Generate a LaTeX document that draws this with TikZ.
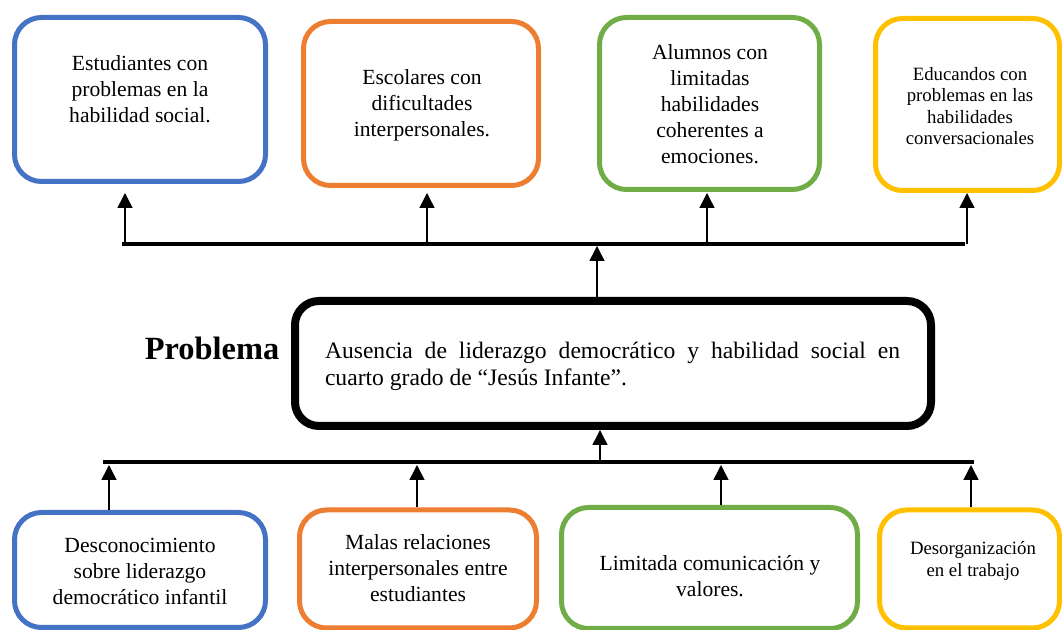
\documentclass[tikz,border=0pt]{standalone}
\usepackage{fontspec}
\setmainfont{Liberation Serif}
\usetikzlibrary{arrows.meta}

\definecolor{azul}{HTML}{4472C4}
\definecolor{naranja}{HTML}{ED7D31}
\definecolor{verde}{HTML}{70AD47}
\definecolor{amarillo}{HTML}{FFC000}

\begin{document}
\begin{tikzpicture}[x=0.5pt,y=-0.5pt,
	caja/.style={draw,rounded corners=13.5pt,line width=2.5pt,inner sep=0pt},
	texto/.style={align=center,font=\fontsize{10.8}{13}\selectfont},
	textochico/.style={align=center,font=\fontsize{9.4}{10.7}\selectfont},
	flecha/.style={line width=0.75pt,-{Triangle[width=7.5pt,length=7.5pt]}}]
\useasboundingbox (0,0) rectangle (1062,630);

\node [caja,draw=azul,minimum width=125.5pt,minimum height=82pt]     (efecto1) at ( 140,99.5) {};
\node [caja,draw=naranja,minimum width=117.5pt,minimum height=82pt]  (efecto2) at ( 421,103.5) {};
\node [caja,draw=verde,minimum width=110pt,minimum height=86pt]      (efecto3) at (709.5,103.5) {};
\node [caja,draw=amarillo,minimum width=92pt,minimum height=86pt]    (efecto4) at (967.5,104.5) {};

\node [texto]      (tefecto1) at (140,89)    {Estudiantes con\\ problemas en la\\ habilidad social.};
\node [texto]      (tefecto2) at (422,105)   {Escolares con\\ dificultades\\ interpersonales.};
\node [texto]      (tefecto3) at (710,104.5) {Alumnos con\\ limitadas\\ habilidades\\ coherentes a\\ emociones.};
\node [textochico] (tefecto4) at (970,106)   {Educandos con\\ problemas en las\\ habilidades\\ conversacionales};

\node [font=\bfseries\fontsize{16.2}{19}\selectfont] (problema) at (212,348) {Problema};
\node [caja,line width=4pt,rounded corners=12pt,minimum width=318pt,minimum height=62.5pt] (central) at (613,363.5) {};
\node [text width=287.5pt,align=justify,inner sep=0pt,font=\fontsize{11.8}{13.5}\selectfont] (tcentral) at (612.5,366)
	{Ausencia de liderazgo democrático y habilidad social en\linebreak cuarto grado de “Jesús Infante”.};

\node [caja,draw=azul,minimum width=125.5pt,minimum height=57.5pt]   (causa1) at ( 140,570) {};
\node [caja,draw=naranja,minimum width=118.5pt,minimum height=59pt]  (causa2) at ( 418,569) {};
\node [caja,draw=verde,minimum width=148pt,minimum height=60.5pt]    (causa3) at (709.5,568) {};
\node [caja,draw=amarillo,minimum width=90pt,minimum height=59pt]    (causa4) at (969.5,569) {};

\node [texto]      (tcausa1) at (140,571)   {Desconocimiento\\ sobre liderazgo\\ democrático infantil};
\node [texto]      (tcausa2) at (418,568)   {Malas relaciones\\ interpersonales entre\\ estudiantes};
\node [texto]      (tcausa3) at (710,576.5) {Limitada comunicación y\\ valores.};
\node [textochico] (tcausa4) at (973,561)   {Desorganización\\ en el trabajo};

\coordinate (e0) at (122,244);
\coordinate (e5) at (965,244);
\draw [line width=2pt] (e0) -- (e5);
\coordinate (a0) at (597,246);
\coordinate (a1) at (125,193);
\coordinate (a2) at (427,193);
\coordinate (a3) at (707,193);
\coordinate (a4) at (967,193);
\draw [flecha] (a0 |- central.north) -- (a0);
\draw [flecha] (a1 |- e0) -- (a1);
\draw [flecha] (a2 |- e0) -- (a2);
\draw [flecha] (a3 |- e0) -- (a3);
\draw [flecha] (a4 |- e0) -- (a4);

\coordinate (c0) at (103,462);
\coordinate (c5) at (974,462);
\draw [line width=1.75pt] (c0) -- (c5);
\coordinate (b0) at (600,462);
\coordinate (b1) at (109,465);
\coordinate (b2) at (417,465);
\coordinate (b3) at (721,465);
\coordinate (b4) at (971,465);
\draw [flecha] (b0) -- (b0 |- central.south);
\draw [flecha] (b1 |- causa1.north) -- (b1);
\draw [flecha] (b2 |- causa2.north) -- (b2);
\draw [flecha] (b3 |- causa3.north) -- (b3);
\draw [flecha] (b4 |- causa4.north) -- (b4);
\end{tikzpicture}
\end{document}
